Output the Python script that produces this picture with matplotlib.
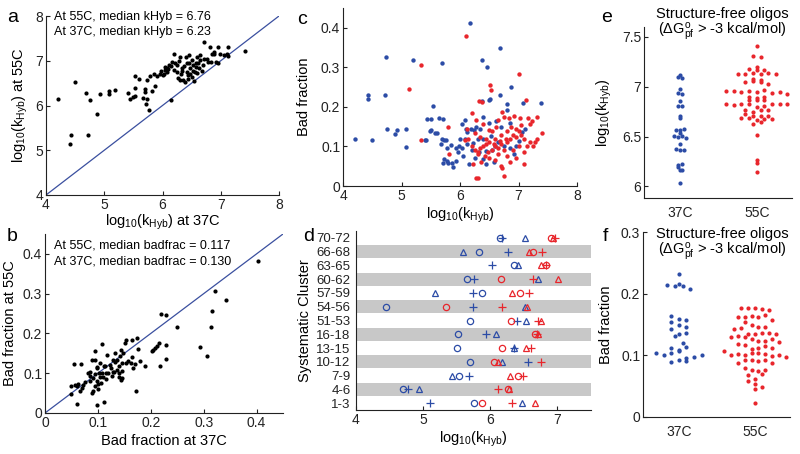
import numpy as np
import matplotlib
matplotlib.use("Agg")
import matplotlib.pyplot as plt

plt.rcParams['font.family'] = ['Liberation Sans', 'DejaVu Sans']
plt.rcParams['mathtext.fontset'] = 'custom'
plt.rcParams['mathtext.rm'] = 'Liberation Sans'
plt.rcParams['mathtext.default'] = 'regular'

BLUE = '#2c4ca6'
RED = '#e8262c'
LINE = '#3a4f9f'

# panel a: log10(kHyb) 37C vs 55C
a_x37 = [4.20, 4.49, 4.43, 4.42, 4.69, 4.75, 4.72, 4.88, 4.92, 5.08, 5.08, 5.18, 5.41, 5.44,
         5.50, 5.52, 5.52, 5.52, 5.60, 5.67, 5.70, 5.70, 5.71, 5.73, 5.76, 5.73, 5.82, 5.79,
         5.87, 5.85, 5.91, 5.95, 6.02, 6.04, 6.08, 6.14, 6.19, 6.15, 6.11, 6.16, 6.19, 6.25,
         6.30, 6.25, 6.31, 6.34, 6.36, 6.38, 6.40, 6.42, 6.42, 6.43, 6.46, 6.48, 6.50, 6.51,
         6.52, 6.54, 6.56, 6.57, 6.59, 6.62, 6.65, 6.68, 6.71, 6.72, 6.78, 6.82, 6.83, 6.88,
         6.89, 6.95, 6.96, 6.99, 7.12, 7.11, 7.13, 7.41, 6.00, 6.05, 6.10, 6.22, 6.28, 6.33,
         6.37, 6.45, 6.47, 6.53, 6.58, 6.61, 6.64, 6.70, 6.76, 6.85, 6.92, 7.05, 6.26, 6.30,
         6.44, 6.60, 5.98, 6.07]
a_y55 = [6.14, 6.53, 5.34, 5.13, 6.27, 6.12, 5.34, 5.80, 6.25, 6.33, 6.25, 6.34, 6.28, 6.14,
         6.18, 6.22, 6.40, 6.66, 6.59, 6.16, 6.30, 6.36, 6.04, 6.15, 5.90, 6.57, 6.33, 6.65,
         6.43, 6.70, 6.66, 6.71, 6.70, 6.79, 6.83, 6.88, 6.79, 6.12, 6.91, 6.97, 7.14, 6.90,
         7.09, 6.75, 6.70, 6.83, 6.57, 6.53, 7.09, 6.94, 6.75, 6.68, 7.12, 6.83, 7.01, 6.64,
         6.90, 6.54, 6.75, 6.94, 7.09, 6.83, 7.12, 6.77, 7.42, 7.03, 6.97, 7.31, 6.97, 7.16,
         7.20, 7.31, 6.94, 7.14, 7.31, 7.16, 7.11, 7.21, 6.68, 6.85, 6.82, 6.95, 7.00, 6.78,
         6.88, 6.95, 6.70, 6.78, 6.85, 6.95, 7.02, 6.90, 7.05, 7.15, 6.98, 7.12, 6.62, 6.56,
         6.60, 6.72, 6.78, 6.75]

# panel b: bad fraction 37C vs 55C
b_x37 = [0.403, 0.321, 0.343, 0.315, 0.313, 0.294, 0.307, 0.249, 0.219, 0.229, 0.229, 0.211,
         0.208, 0.205, 0.202, 0.216, 0.228, 0.217, 0.190, 0.173, 0.174, 0.164, 0.151, 0.153,
         0.165, 0.170, 0.167, 0.162, 0.143, 0.147, 0.132, 0.142, 0.136, 0.145, 0.153, 0.139,
         0.132, 0.145, 0.107, 0.094, 0.117, 0.088, 0.094, 0.104, 0.111, 0.098, 0.055, 0.069,
         0.050, 0.050, 0.060, 0.098, 0.112, 0.090, 0.088, 0.063, 0.070, 0.066, 0.076, 0.085,
         0.082, 0.090, 0.098, 0.102, 0.108, 0.115, 0.120, 0.126, 0.130, 0.139, 0.143, 0.146,
         0.136, 0.125, 0.114, 0.104, 0.101, 0.095, 0.106, 0.060, 0.057, 0.094, 0.085, 0.116,
         0.110, 0.123, 0.128, 0.156, 0.175, 0.086, 0.072, 0.100, 0.128, 0.140, 0.098, 0.180]
b_y55 = [0.381, 0.306, 0.283, 0.256, 0.216, 0.167, 0.143, 0.216, 0.249, 0.246, 0.170, 0.169,
         0.164, 0.159, 0.157, 0.176, 0.136, 0.117, 0.117, 0.055, 0.189, 0.184, 0.176, 0.184,
         0.141, 0.122, 0.114, 0.126, 0.159, 0.151, 0.151, 0.143, 0.134, 0.126, 0.126, 0.118,
         0.127, 0.105, 0.174, 0.157, 0.147, 0.134, 0.134, 0.126, 0.117, 0.113, 0.122, 0.123,
         0.067, 0.049, 0.023, 0.021, 0.028, 0.055, 0.050, 0.074, 0.063, 0.056, 0.079, 0.093,
         0.100, 0.088, 0.080, 0.100, 0.100, 0.100, 0.100, 0.094, 0.102, 0.091, 0.083, 0.087,
         0.108, 0.112, 0.118, 0.090, 0.072, 0.068, 0.075, 0.069, 0.070, 0.097, 0.103, 0.085,
         0.090, 0.120, 0.133, 0.130, 0.160, 0.080, 0.070, 0.060, 0.102, 0.100, 0.116, 0.130]

# panel c: log10(kHyb) vs bad fraction
c_x37 = [4.21, 4.43, 4.43, 4.50, 4.71, 4.74, 4.76, 4.89, 4.93, 5.07, 5.08, 5.19, 5.40, 5.44,
         5.51, 5.53, 5.50, 5.58, 5.67, 5.70, 5.71, 5.70, 5.76, 5.71, 5.78, 5.87, 5.88, 5.73,
         5.80, 5.94, 5.77, 5.84, 5.93, 6.04, 6.12, 6.22, 5.73, 6.04, 6.08, 6.12, 6.18, 6.24,
         6.27, 6.39, 6.37, 6.49, 6.46, 6.69, 6.37, 6.88, 6.52, 6.69, 7.08, 7.39, 6.80, 6.80,
         6.86, 6.70, 7.11, 7.06, 6.17, 6.09, 6.30, 6.40, 6.53, 6.20, 6.32, 6.45, 6.55, 6.25,
         6.40, 6.58, 6.15, 6.45, 6.60, 6.75, 6.85, 6.95, 7.00, 6.65, 6.92, 6.05, 5.97, 6.10,
         5.98, 6.35, 6.50, 6.62, 6.00, 5.64, 5.42, 5.49, 5.61]
c_y37 = [0.118, 0.231, 0.219, 0.116, 0.231, 0.327, 0.143, 0.131, 0.141, 0.145, 0.099, 0.318,
         0.116, 0.170, 0.170, 0.203, 0.141, 0.134, 0.106, 0.310, 0.170, 0.118, 0.116, 0.058,
         0.063, 0.057, 0.048, 0.068, 0.057, 0.063, 0.097, 0.103, 0.097, 0.097, 0.107, 0.109,
         0.116, 0.158, 0.166, 0.137, 0.145, 0.141, 0.149, 0.175, 0.215, 0.217, 0.301, 0.348,
         0.318, 0.251, 0.219, 0.230, 0.210, 0.210, 0.207, 0.192, 0.160, 0.150, 0.144, 0.136,
         0.411, 0.120, 0.120, 0.118, 0.127, 0.090, 0.085, 0.088, 0.092, 0.070, 0.068, 0.060,
         0.055, 0.055, 0.100, 0.100, 0.095, 0.100, 0.115, 0.110, 0.080, 0.075, 0.085, 0.145,
         0.100, 0.145, 0.160, 0.165, 0.120, 0.171, 0.116, 0.139, 0.134]
c_x55 = [5.13, 5.33, 5.33, 5.80, 5.82, 6.11, 6.33, 6.37, 6.52, 6.53, 6.20, 6.28, 6.39, 6.49,
         6.65, 6.09, 6.14, 6.27, 6.31, 7.01, 7.13, 6.72, 6.83, 6.92, 6.75, 7.03, 7.17, 7.31,
         7.23, 7.20, 7.40, 7.31, 7.29, 6.75, 6.20, 6.25, 6.30, 6.35, 6.40, 6.45, 6.50, 6.55,
         6.60, 6.65, 6.70, 6.75, 6.80, 6.85, 6.90, 6.95, 7.00, 7.05, 7.10, 7.15, 7.10, 6.88,
         6.95, 7.05, 6.80, 6.70, 6.60, 6.55, 6.62, 6.48, 6.42, 6.30, 6.22, 6.36, 6.50, 6.60,
         6.70, 6.72, 6.85, 6.95, 7.10, 6.80, 6.65, 6.90, 7.00, 7.20, 7.25, 6.78, 6.68, 6.58,
         6.45, 6.35, 6.12, 6.25]
c_y55 = [0.245, 0.305, 0.116, 0.149, 0.080, 0.380, 0.215, 0.213, 0.255, 0.242, 0.185, 0.168,
         0.158, 0.141, 0.166, 0.116, 0.120, 0.021, 0.021, 0.284, 0.217, 0.187, 0.173, 0.176,
         0.175, 0.171, 0.173, 0.175, 0.165, 0.158, 0.133, 0.120, 0.110, 0.025, 0.100, 0.090,
         0.085, 0.095, 0.100, 0.105, 0.110, 0.090, 0.100, 0.095, 0.105, 0.090, 0.110, 0.120,
         0.130, 0.125, 0.140, 0.130, 0.120, 0.100, 0.085, 0.150, 0.145, 0.155, 0.140, 0.130,
         0.120, 0.140, 0.150, 0.085, 0.075, 0.080, 0.055, 0.060, 0.070, 0.065, 0.050, 0.045,
         0.060, 0.070, 0.055, 0.075, 0.080, 0.090, 0.100, 0.110, 0.100, 0.120, 0.115, 0.105,
         0.120, 0.125, 0.145, 0.135]

# panel d: systematic clusters (circle, plus, triangle per cluster)
clusters = ['1-3', '4-6', '7-9', '10-12', '13-15', '16-18', '51-53', '54-56',
            '57-59', '60-62', '63-65', '66-68', '70-72']
d_blue_o = [5.76, 4.70, 5.54, 5.70, 5.50, 5.52, 5.70, 4.44, 5.88, 5.66, 6.36, 5.83, 6.14]
d_blue_p = [5.10, 4.77, 5.69, 6.56, 6.36, 5.94, 6.40, 5.74, 5.74, 5.76, 6.03, 6.26, 6.17]
d_blue_t = [6.47, 4.94, 5.43, 6.17, 6.35, 6.08, 6.53, 6.52, 5.18, 6.71, 6.42, 5.60, 6.51]
d_red_o = [5.88, 6.26, 6.41, 6.05, 6.18, 6.67, 6.31, 5.34, 6.44, 6.16, 6.83, 6.63, 6.91]
d_red_p = [6.32, 6.11, 6.48, 6.76, 6.60, 6.69, 6.71, 6.18, 6.58, 6.63, 6.83, 6.77, 6.97]
d_red_t = [6.67, 6.28, 6.29, 6.11, 6.53, 6.71, 6.76, 6.55, 6.33, 7.01, 6.76, 6.58, 6.93]

# panel e/f: structure-free oligos
e_37 = [7.10, 7.09, 7.12, 6.98, 6.94, 6.93, 6.86, 6.81, 6.81, 6.71, 6.69, 6.57, 6.54, 6.57,
        6.58, 6.51, 6.50, 6.51, 6.49, 6.43, 6.38, 6.37, 6.37, 6.20, 6.17, 6.16, 6.22, 6.23, 6.03]
e_55 = [7.41, 7.31, 7.30, 7.20, 7.18, 7.17, 7.13, 7.13, 7.14, 7.17, 7.13, 7.14, 7.13, 7.08,
        7.07, 7.05, 7.06, 7.05, 7.03, 6.96, 6.96, 6.95, 6.96, 6.95, 6.97, 6.94, 6.95, 6.90,
        6.87, 6.87, 6.89, 6.93, 6.90, 6.83, 6.82, 6.83, 6.83, 6.80, 6.81, 6.83, 6.83, 6.87,
        6.83, 6.77, 6.75, 6.73, 6.77, 6.77, 6.69, 6.69, 6.71, 6.71, 6.71, 6.67, 6.68, 6.68,
        6.63, 6.65, 6.52, 6.27, 6.24, 6.14]
f_37 = [0.232, 0.214, 0.216, 0.212, 0.212, 0.208, 0.163, 0.159, 0.157, 0.154, 0.149, 0.146,
        0.143, 0.135, 0.136, 0.131, 0.120, 0.112, 0.109, 0.114, 0.104, 0.100, 0.104, 0.107,
        0.089, 0.096, 0.093, 0.091, 0.097, 0.101]
f_55 = [0.177, 0.177, 0.176, 0.175, 0.173, 0.162, 0.162, 0.164, 0.162, 0.166, 0.157, 0.154,
        0.149, 0.146, 0.143, 0.144, 0.146, 0.130, 0.134, 0.135, 0.137, 0.136, 0.135, 0.131,
        0.130, 0.119, 0.127, 0.124, 0.123, 0.126, 0.122, 0.116, 0.111, 0.112, 0.107, 0.115,
        0.112, 0.100, 0.102, 0.100, 0.103, 0.104, 0.102, 0.099, 0.100, 0.097, 0.088, 0.093,
        0.092, 0.091, 0.093, 0.087, 0.080, 0.077, 0.075, 0.076, 0.068, 0.062, 0.059, 0.069,
        0.053, 0.049, 0.046, 0.023]

W, H = 800, 454
LAB = 10.5   # axis label size
TCK = 10     # tick label size
fig = plt.figure(figsize=(8, 4.54), dpi=100)


def add_ax(l, r, t, b):
    ax = fig.add_axes([l / W, 1 - b / H, (r - l) / W, (b - t) / H])
    for s in ['top', 'right']:
        ax.spines[s].set_visible(False)
    for s in ['left', 'bottom']:
        ax.spines[s].set_linewidth(0.8)
        ax.spines[s].set_color('#222222')
    ax.tick_params(direction='in', length=3, width=0.8, labelsize=TCK, pad=2,
                   colors='#222222')
    ax.patch.set_alpha(0)
    return ax


def swarm(vals, center, binw, dx):
    vals = np.asarray(vals)
    xs = np.zeros(len(vals))
    bins = np.floor(vals / binw)
    for bval in np.unique(bins):
        idx = np.where(bins == bval)[0]
        n = len(idx)
        xs[idx] = center + (np.arange(n) - (n - 1) / 2) * dx
    return xs


def fig_text(x, y, s, **kw):
    fig.text(x / W, 1 - y / H, s, **kw)


kh = r'log$_{10}$(k$_{Hyb}$)'

# a
ax = add_ax(46, 279, 16, 195)
ax.plot([4, 8], [4, 8], color=LINE, lw=0.9)
ax.scatter(a_x37, a_y55, s=9, color='black', linewidths=0, zorder=3)
ax.set_xlim(4, 8)
ax.set_ylim(4, 8)
ax.set_xticks([4, 5, 6, 7, 8])
ax.set_yticks([4, 5, 6, 7, 8])
ax.set_xlabel(kh + ' at 37C', fontsize=LAB, labelpad=1)
ax.set_ylabel(kh + ' at 55C', fontsize=LAB, labelpad=4)
ax.text(4.14, 7.98, 'At 55C, median kHyb = 6.76', fontsize=9, va='center')
ax.text(4.14, 7.64, 'At 37C, median kHyb = 6.23', fontsize=9, va='center')

# b
ax = add_ax(45, 283, 234, 413)
ax.plot([0, 0.45], [0, 0.45], color=LINE, lw=0.9)
ax.scatter(b_x37, b_y55, s=9, color='black', linewidths=0, zorder=3)
ax.set_xlim(0, 0.45)
ax.set_ylim(0, 0.45)
ticks = [0, 0.1, 0.2, 0.3, 0.4]
tl = ['0', '0.1', '0.2', '0.3', '0.4']
ax.set_xticks(ticks, tl)
ax.set_yticks(ticks, tl)
ax.set_xlabel('Bad fraction at 37C', fontsize=LAB, labelpad=3)
ax.set_ylabel('Bad fraction at 55C', fontsize=LAB, labelpad=4)
ax.text(0.017, 0.421, 'At 55C, median badfrac = 0.117', fontsize=9, va='center')
ax.text(0.017, 0.381, 'At 37C, median badfrac = 0.130', fontsize=9, va='center')

# c
ax = add_ax(343, 577, 8, 186)
ax.scatter(c_x37, c_y37, s=10, color=BLUE, linewidths=0, zorder=3)
ax.scatter(c_x55, c_y55, s=10, color=RED, linewidths=0, zorder=3)
ax.set_xlim(4, 8)
ax.set_ylim(0, 0.45)
ax.set_xticks([4, 5, 6, 7, 8])
ax.set_yticks(ticks, tl)
ax.set_xlabel(kh, fontsize=LAB, labelpad=2)
ax.set_ylabel('Bad fraction', fontsize=LAB, labelpad=7)

# d
ax = add_ax(356, 591, 231, 410)
rows = np.arange(1, len(clusters) + 1)
for r in rows[1::2]:
    ax.axhspan(r - 0.48, r + 0.48, color='#c8c8c8', lw=0, zorder=0)
mk = dict(ms=4.5, mew=0.9, ls='none', mfc='none', zorder=3)
ax.plot(d_blue_o, rows, marker='o', color=BLUE, **mk)
ax.plot(d_blue_p, rows, marker='+', color=BLUE, **dict(mk, ms=6))
ax.plot(d_blue_t, rows, marker='^', color=BLUE, **mk)
ax.plot(d_red_o, rows, marker='o', color=RED, **mk)
ax.plot(d_red_p, rows, marker='+', color=RED, **dict(mk, ms=6))
ax.plot(d_red_t, rows, marker='^', color=RED, **mk)
ax.set_xlim(4, 7.5)
ax.set_ylim(0.5, 13.5)
ax.set_xticks([4, 5, 6, 7])
ax.set_yticks(rows, clusters)
ax.tick_params(axis='y', length=0, labelsize=9.5, pad=4)
ax.set_xlabel(kh, fontsize=LAB, labelpad=2)
ax.set_ylabel('Systematic Cluster', fontsize=LAB, labelpad=3)

# e
ax = add_ax(644, 792, 27, 198)
ax.scatter(swarm(e_37, 1, 0.045, 0.055), e_37, s=9, color=BLUE, linewidths=0, zorder=3)
ax.scatter(swarm(e_55, 2, 0.045, 0.1), e_55, s=9, color=RED, linewidths=0, zorder=3)
ax.set_xlim(0.53, 2.46)
ax.set_ylim(5.884, 7.6)
ax.set_xticks([1, 2], ['37C', '55C'])
ax.set_yticks([6, 6.5, 7, 7.5], ['6', '6.5', '7', '7.5'])
ax.tick_params(axis='x', length=0, pad=6)
ax.set_ylabel(kh, fontsize=LAB, labelpad=6)

# f
ax = add_ax(643, 790, 232, 417)
ax.scatter(swarm(f_37, 1, 0.012, 0.1), f_37, s=9, color=BLUE, linewidths=0, zorder=3)
ax.scatter(swarm(f_55, 2, 0.012, 0.09), f_55, s=9, color=RED, linewidths=0, zorder=3)
ax.set_xlim(0.53, 2.46)
ax.set_ylim(0, 0.3)
ax.set_xticks([1, 2], ['37C', '55C'])
ax.set_yticks([0, 0.1, 0.2, 0.3], ['0', '0.1', '0.2', '0.3'])
ax.tick_params(axis='x', length=0, pad=6)
ax.set_ylabel('Bad fraction', fontsize=LAB, labelpad=6)

# titles for e and f
dg = r'($\Delta$G$^{o}_{pf}$ > -3 kcal/mol)'
for y0 in (14, 234):
    fig_text(722, y0, 'Structure-free oligos', fontsize=10.5, ha='center', va='center')
    fig_text(722, y0 + 17, dg, fontsize=10.5, ha='center', va='center')

# panel letters
for lbl, x, y in [('a', 13, 17), ('b', 12, 237), ('c', 302, 19),
                  ('d', 309, 237), ('e', 607, 17), ('f', 605, 237)]:
    fig_text(x, y, lbl, fontsize=14, ha='center', va='center')

fig.savefig('out.png', dpi=100)
